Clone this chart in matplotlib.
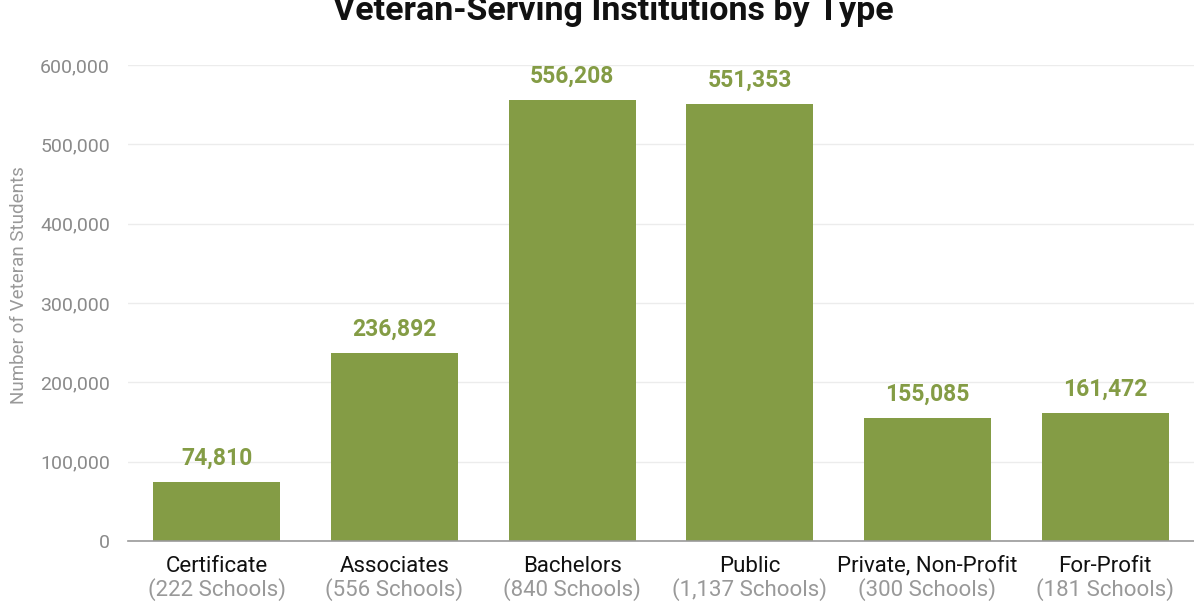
import matplotlib.pyplot as plt
from matplotlib.ticker import FuncFormatter
from matplotlib.transforms import blended_transform_factory

plt.rcParams['font.family'] = ['Roboto', 'DejaVu Sans']

categories = ['Certificate', 'Associates', 'Bachelors', 'Public', 'Private, Non-Profit', 'For-Profit']
schools = ['(222 Schools)', '(556 Schools)', '(840 Schools)', '(1,137 Schools)', '(300 Schools)', '(181 Schools)']
students = [74810, 236892, 556208, 551353, 155085, 161472]
yticks = [0, 100000, 200000, 300000, 400000, 500000, 600000]

green = '#849c45'
gray = '#8a8a8a'

fig = plt.figure(figsize=(11.94, 6.03), dpi=100)
ax = fig.add_axes([128 / 1194, 1 - 541 / 603, 1066 / 1194, 476 / 603])

x = range(len(categories))
ax.bar(x, students, width=0.715, color=green, zorder=2)
ax.set_xlim(-0.5, 5.5)
ax.set_ylim(0, 600000)

for i, v in zip(x, students):
    ax.annotate(f'{v:,}', (i, v), xytext=(0, 17), textcoords='offset points',
                ha='center', va='center', fontsize=16.5, fontweight='bold', color=green)

ax.set_yticks(yticks)
ax.yaxis.set_major_formatter(FuncFormatter(lambda v, p: f'{int(v):,}'))
ax.tick_params(axis='y', length=0, pad=13, labelsize=14, labelcolor=gray)
ax.set_xticks([])
ax.grid(axis='y', color='#ececec', linewidth=1, zorder=0)

for s in ['top', 'right', 'left']:
    ax.spines[s].set_visible(False)
ax.spines['bottom'].set_color('#999999')
ax.spines['bottom'].set_linewidth(1.2)
ax.spines['bottom'].set_zorder(3)

trans = blended_transform_factory(ax.transData, fig.transFigure)
for i, (c, s) in enumerate(zip(categories, schools)):
    ax.text(i, 1 - 566 / 603, c, transform=trans, ha='center', va='center',
            fontsize=16, color='#111111')
    ax.text(i, 1 - 590 / 603, s, transform=trans, ha='center', va='center',
            fontsize=16, color='#999999')

fig.text(19 / 1194, 1 - 285 / 603, 'Number of Veteran Students', rotation=90,
         ha='center', va='center', fontsize=13.5, color='#999999')

fig.text(613 / 1194, 1 - 11 / 603, 'Veteran-Serving Institutions by Type',
         ha='center', va='center', fontsize=24.5, fontweight='bold', color='#111111')

fig.savefig('out.png', dpi=100)
